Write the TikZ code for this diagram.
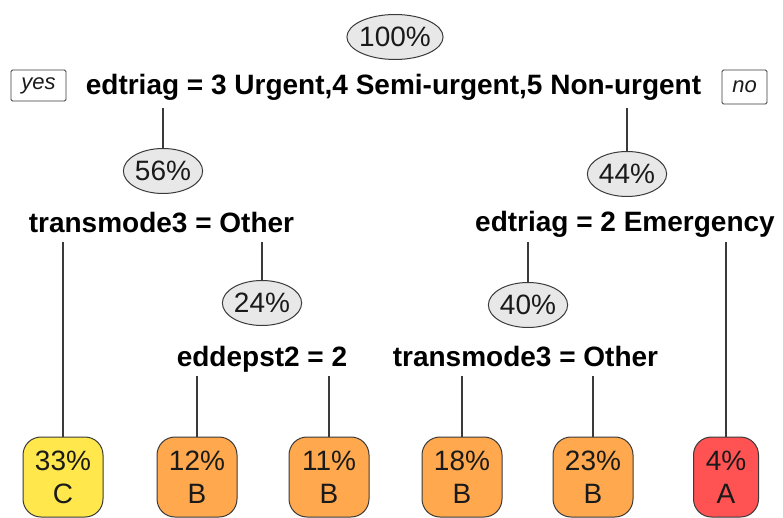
\documentclass[tikz,border=0pt]{standalone}
\usepackage{fontspec}
\setmainfont{Liberation Sans}
\usetikzlibrary{shapes.geometric}
\definecolor{ink}{HTML}{1A1A1A}
\definecolor{edge}{HTML}{3A3A3A}
\definecolor{ovalfill}{HTML}{E8E8E8}
\definecolor{leafC}{HTML}{FFE74C}
\definecolor{leafB}{HTML}{FFA84E}
\definecolor{leafA}{HTML}{FF5252}

\begin{document}
\begin{tikzpicture}[x=1pt,y=-1pt,
    pct/.style={ellipse,draw=edge,fill=ovalfill,line width=1pt,text=ink,
      inner xsep=0pt,inner ysep=0pt,minimum height=45pt,
      font=\fontsize{28}{30}\selectfont},
    split/.style={anchor=base,inner sep=0pt,text=black,
      font=\fontsize{28}{30}\selectfont\bfseries},
    leaf/.style={draw=edge,line width=1pt,rounded corners=18pt,text=ink,
      minimum width=80pt,minimum height=80pt,inner sep=0pt,align=center,
      font=\fontsize{28}{33}\selectfont},
    side/.style={draw=edge,line width=.9pt,rounded corners=1.5pt,text=ink,
      inner sep=0pt,font=\fontsize{22}{24}\selectfont\itshape},
    link/.style={draw=edge,line width=1.3pt}]
  \useasboundingbox (0,0) rectangle (783,518);

  % root
  \node[pct,inner xsep=-1.8pt] (p1) at (395,37) {100\%};
  \node[split] (s1) at (393.5,95) {edtriag = 3 Urgent,4 Semi-urgent,5 Non-urgent};
  \node[side,minimum width=55pt,minimum height=31pt] (yes) at (38.5,85.5) {yes};
  \node[side,minimum width=45pt,minimum height=34pt] (no) at (744.5,87) {no};
  \coordinate (s1l) at (163,108);
  \coordinate (s1r) at (627,108);

  % second level
  \node[pct] (p2) at (163,171) {56\%};
  \node[pct] (p3) at (627,174) {44\%};
  \node[split] (s2) at (161.5,233) {transmode3 = Other};
  \node[split] (s3) at (625,232) {edtriag = 2 Emergency};
  \coordinate (s2l) at (63,242);
  \coordinate (s2r) at (262,242);
  \coordinate (s3l) at (528,242);
  \coordinate (s3r) at (726,242);

  % third level
  \node[pct] (p5) at (262,303) {24\%};
  \node[pct] (p6) at (528,305) {40\%};
  \node[split] (s5) at (262,366) {eddepst2 = 2};
  \node[split] (s6) at (525.5,366) {transmode3 = Other};
  \coordinate (s5l) at (197,376);
  \coordinate (s5r) at (329,376);
  \coordinate (s6l) at (462,376);
  \coordinate (s6r) at (593,376);

  % leaves
  \node[leaf,fill=leafC] (l1) at (63,477) {33\%\\C};
  \node[leaf,fill=leafB] (l2) at (197,477) {12\%\\B};
  \node[leaf,fill=leafB] (l3) at (329,477) {11\%\\B};
  \node[leaf,fill=leafB] (l4) at (462,477) {18\%\\B};
  \node[leaf,fill=leafB] (l5) at (593,477) {23\%\\B};
  \node[leaf,fill=leafA,minimum width=65pt] (l6) at (726,477) {4\%\\A};

  % connectors
  \draw[link] (s1l) -- (p2);
  \draw[link] (s1r) -- (p3);
  \draw[link] (s2l) -- (l1);
  \draw[link] (s2r) -- (p5);
  \draw[link] (s3l) -- (p6);
  \draw[link] (s3r) -- (l6);
  \draw[link] (s5l) -- (l2);
  \draw[link] (s5r) -- (l3);
  \draw[link] (s6l) -- (l4);
  \draw[link] (s6r) -- (l5);
\end{tikzpicture}
\end{document}
